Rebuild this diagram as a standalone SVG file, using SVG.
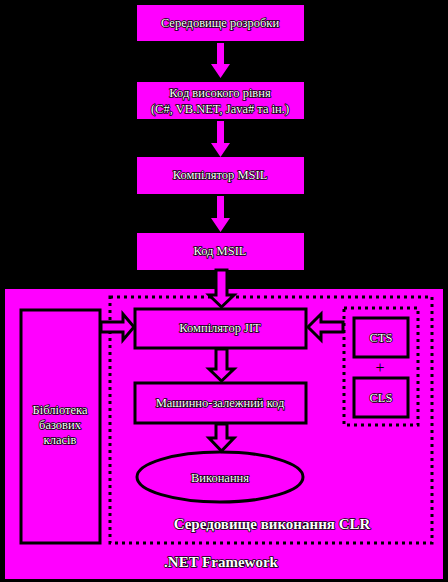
<svg xmlns="http://www.w3.org/2000/svg" width="448" height="582" viewBox="0 0 448 582">
<style>
.t{font-family:"Liberation Serif",serif;font-size:12.5px;fill:#fff;stroke:#000;stroke-width:1.6;paint-order:stroke;text-anchor:middle;stroke-linejoin:round}
.b{font-weight:bold;font-size:15px}
.box{fill:#FF00FF;stroke:#000;stroke-width:3}
.top{fill:#FF00FF}
.arr{fill:#FF00FF;stroke:#000;stroke-width:3;stroke-linejoin:miter}
.dot{fill:none;stroke:#000;stroke-width:3;stroke-dasharray:3 4}
</style>
<rect x="0" y="0" width="448" height="582" fill="#000"/>
<g id="framework">
<rect x="5" y="289" width="438" height="290" fill="#FF00FF"/>
<text class="t b" x="221" y="567">.NET Framework</text>
</g>
<g id="clr">
<rect class="dot" x="110" y="297" width="322" height="246"/>
<text class="t b" x="272" y="529">Середовище виконання CLR</text>
</g>
<g id="n1"><rect class="top" x="137" y="5" width="167" height="36"/><text class="t" x="220" y="27">Середовище розробки</text></g>
<g id="n2"><rect class="top" x="137" y="82" width="167" height="37"/><text class="t" x="220" y="97">Код високого рівня</text><text class="t" x="220" y="113">(C#, VB.NET, Java# та ін.)</text></g>
<g id="n3"><rect class="top" x="137" y="157" width="167" height="37"/><text class="t" x="220" y="179">Компілятор MSIL</text></g>
<g id="n4"><rect class="top" x="137" y="233" width="167" height="37"/><text class="t" x="220" y="255">Код MSIL</text></g>
<g id="jit"><rect class="box" x="135" y="309" width="171" height="39"/><text class="t" x="220" y="332">Компілятор JIT</text></g>
<g id="lib"><rect class="box" x="21" y="310" width="79" height="233"/><text class="t" x="60" y="414">Бібліотека</text><text class="t" x="60" y="429">базових</text><text class="t" x="60" y="444">класів</text></g>
<g id="ctscls"><rect class="dot" x="344" y="308" width="74" height="117"/></g>
<g id="cts"><rect class="box" x="354" y="318" width="54" height="39"/><text class="t" x="381" y="342">CTS</text></g>
<g id="plus"><text class="t" x="380" y="373" style="stroke:none;fill:#000;font-size:16px">+</text></g>
<g id="cls"><rect class="box" x="354" y="378" width="54" height="39"/><text class="t" x="381" y="402">CLS</text></g>
<g id="mc"><rect class="box" x="135" y="383" width="171" height="40"/><text class="t" x="220" y="407">Машинно-залежний код</text></g>
<g id="exec"><ellipse class="box" cx="220" cy="477" rx="83" ry="25"/><text class="t" x="220" y="482">Виконання</text></g>
<g id="connectors">
<polygon points="217,43 224,43 224,64 230,64 220.5,78 211,64 217,64" fill="#FF00FF"/>
<polygon points="217,121 224,121 224,143 230,143 220.5,157 211,143 217,143" fill="#FF00FF"/>
<polygon points="217,196 224,196 224,218 230,218 220.5,232 211,218 217,218" fill="#FF00FF"/>
<polygon class="arr" points="216,270 227,270 227,295 234,295 221.5,307 209,295 216,295"/>
<polygon class="arr" points="216,349 227,349 227,369 234,369 221.5,381 209,369 216,369"/>
<polygon class="arr" points="216,424 227,424 227,438 234,438 221.5,451 209,438 216,438"/>
<polygon class="arr" points="101,322 123,322 123,314 134,327 123,340 123,332 101,332"/>
<polygon class="arr" points="343,322 321,322 321,314 308,327 321,340 321,332 343,332"/>
</g>
</svg>
